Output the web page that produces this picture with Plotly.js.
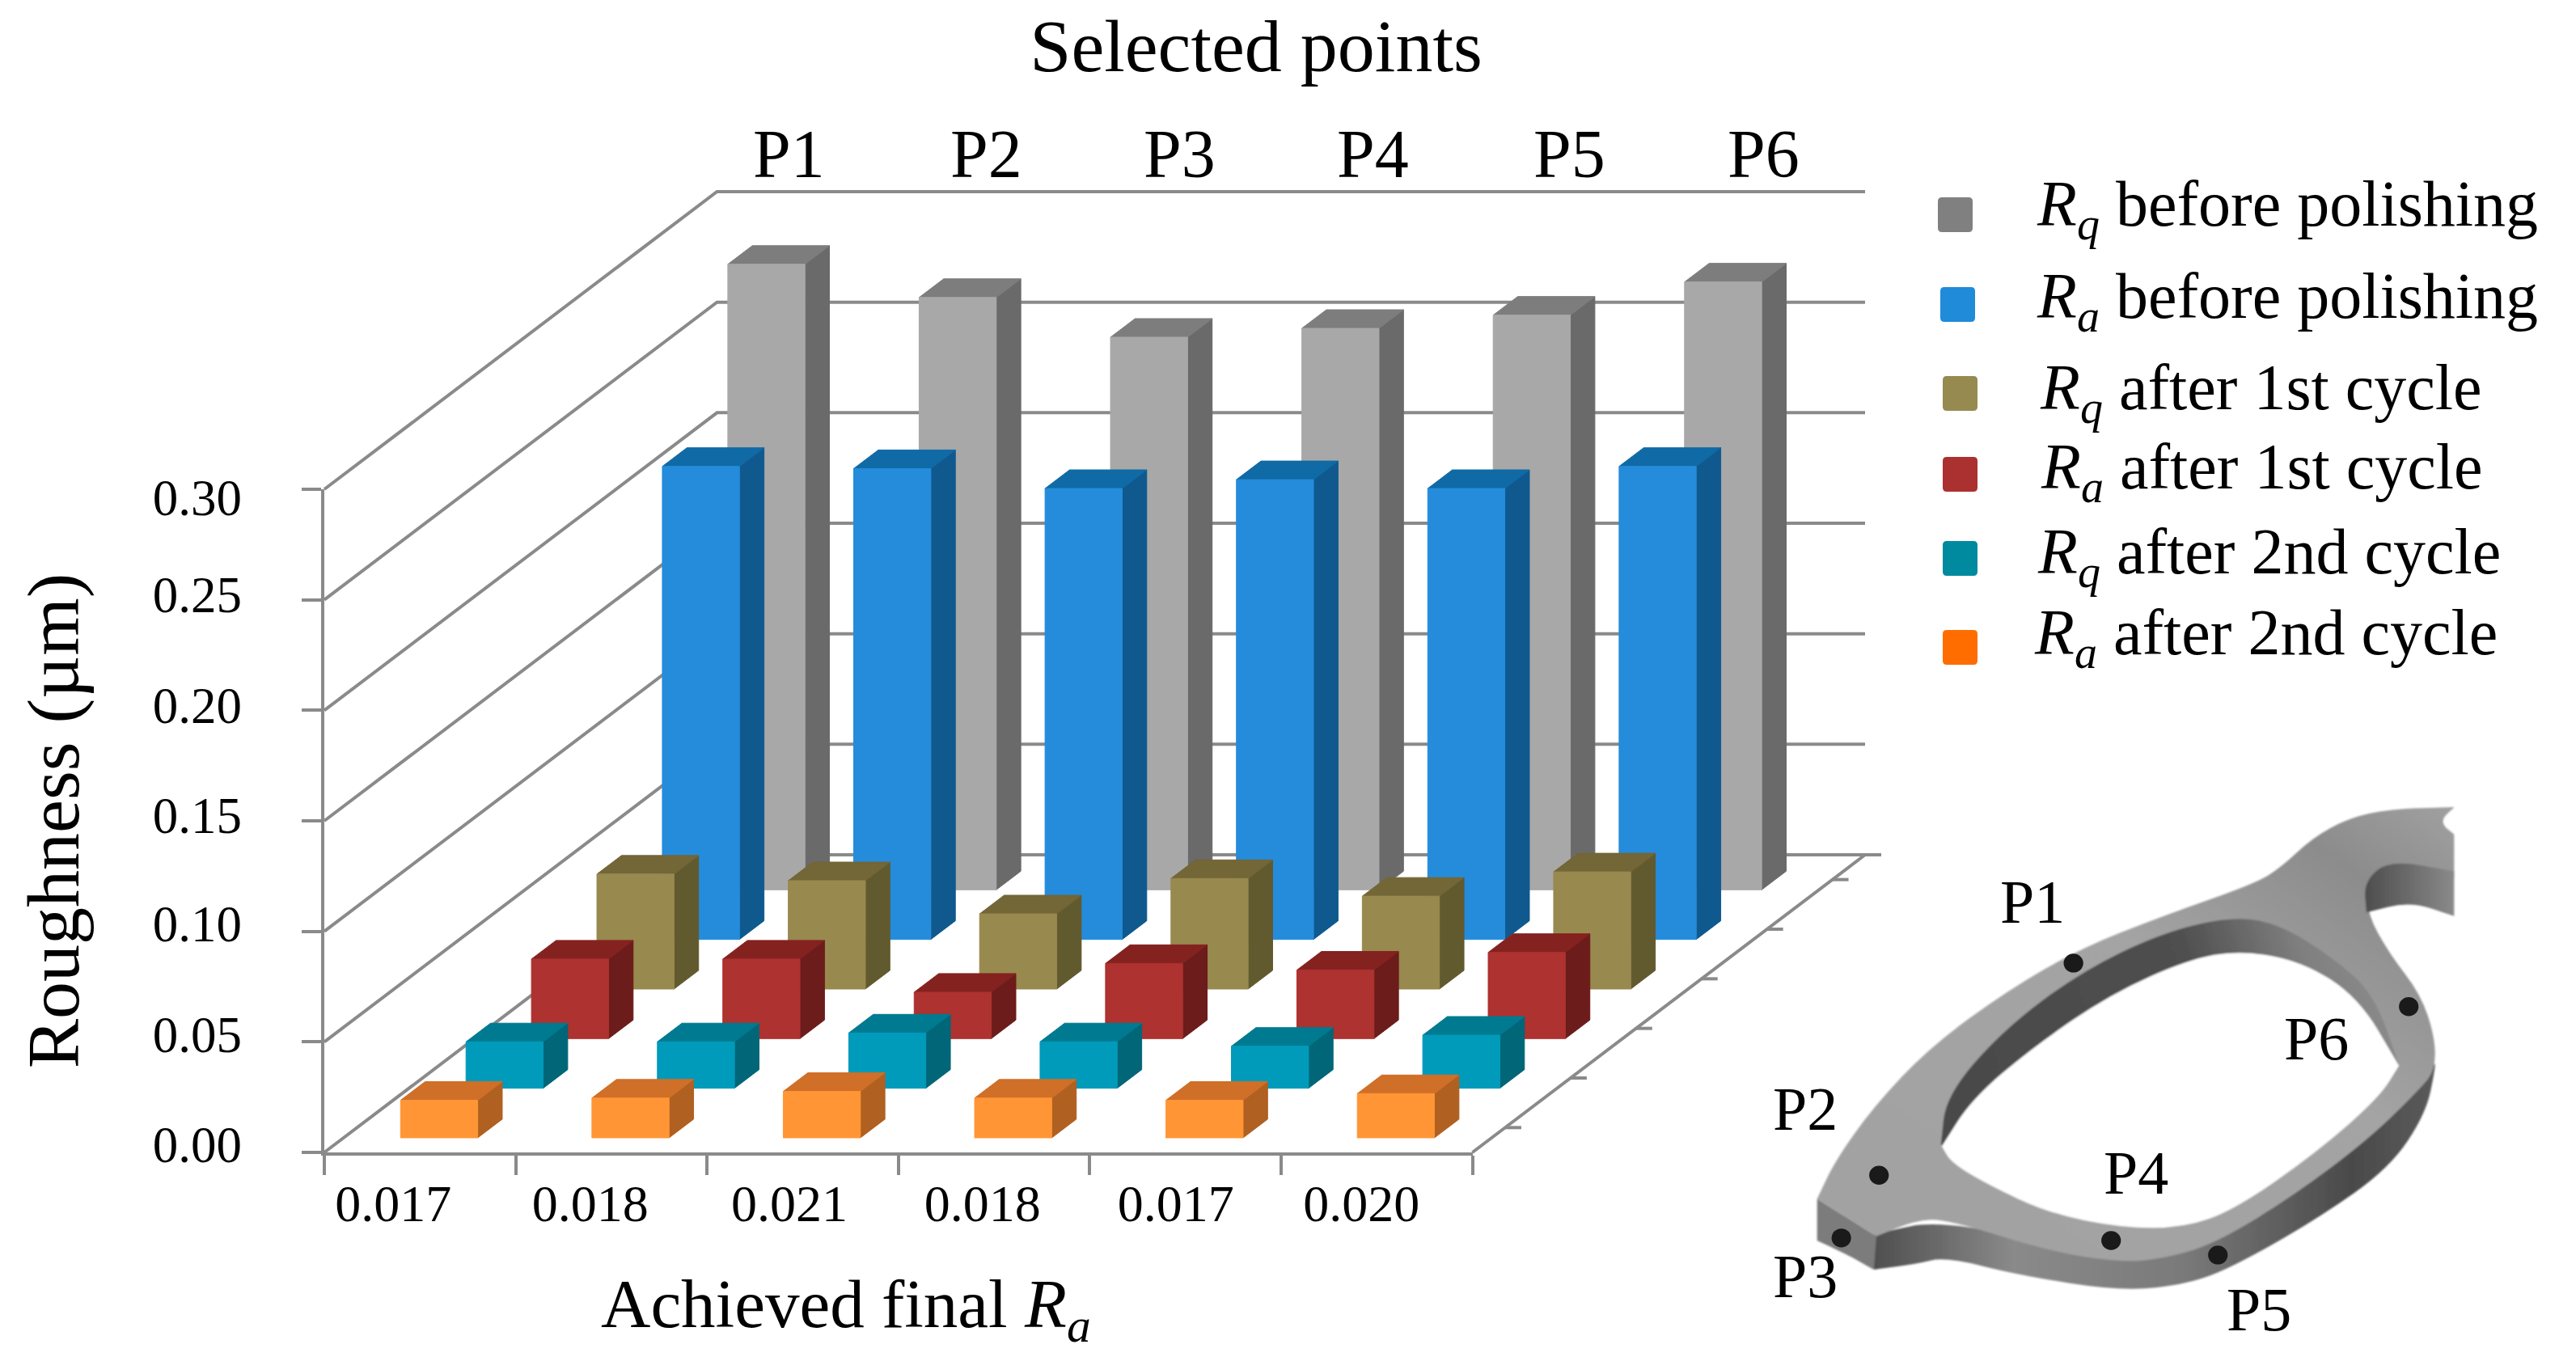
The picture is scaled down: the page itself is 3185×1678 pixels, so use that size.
<!DOCTYPE html>
<html>
<head>
<meta charset="utf-8">
<script src="https://cdn.plot.ly/plotly-3.0.1.min.js"></script>
<style>html,body{margin:0;padding:0;background:#fff}</style>
</head>
<body>
<div id="chart" style="width:3185px;height:1678px"></div>
<script>
// ---- Data ----
const finalRaLabels = ["0.017", "0.018", "0.021", "0.018", "0.017", "0.020"];
const points = ["P1", "P2", "P3", "P4", "P5", "P6"];
const rqBefore = [0.283, 0.268, 0.250, 0.254, 0.260, 0.275];
const raBefore = [0.214, 0.213, 0.204, 0.208, 0.204, 0.214];
const rqAfter1 = [0.052, 0.049, 0.034, 0.050, 0.042, 0.053];
const raAfter1 = [0.036, 0.036, 0.021, 0.034, 0.031, 0.039];
const rqAfter2 = [0.021, 0.021, 0.025, 0.021, 0.019, 0.024];
const raAfter2 = [0.017, 0.018, 0.021, 0.018, 0.017, 0.020];
const yTicks = [0, 0.05, 0.10, 0.15, 0.20, 0.25, 0.30];
const yTickText = ["0.00", "0.05", "0.10", "0.15", "0.20", "0.25", "0.30"];

// ---- Styles: front to back ----
const rows = [
  {v: raAfter2, front: "#ff9535", top: "#cf6f28", side: "#b06020"},
  {v: rqAfter2, front: "#009abb", top: "#007a90", side: "#006678"},
  {v: raAfter1, front: "#ad3230", top: "#842220", side: "#6c1c1a"},
  {v: rqAfter1, front: "#98894f", top: "#736637", side: "#625a2f"},
  {v: raBefore, front: "#258cdb", top: "#0f6aa5", side: "#0f598e"},
  {v: rqBefore, front: "#a8a8a8", top: "#7d7d7d", side: "#6a6a6a"}
];

// ---- Oblique projection of the 3-D box into the axes' own units ----
const W = 3185, H = 1678;
const X0 = 401, X1 = 1820.5, Y0 = 1425, Y30 = 605;
const catPx = (X1 - X0) / 6, umPx = (Y0 - Y30) / 0.30;
const DX = 485.5 / catPx;     // categories per full depth
const DY = 368 / umPx;        // microns per full depth
const nRow = 6;
const barL = 0.298, barR = 0.701, rowF = 0.294, rowB = 0.669;
const proj = (c, d, v) => [c + d * DX, v + d * DY];
const LINE = "#8a8a8a", LW = 4;

function poly(corners) {
  const xs = [], ys = [];
  corners.forEach(p => { xs.push(p[0]); ys.push(p[1]); });
  xs.push(corners[0][0], null); ys.push(corners[0][1], null);
  return [xs, ys];
}
function faceTrace(polys, color) {
  let x = [], y = [];
  polys.forEach(p => { const q = poly(p); x = x.concat(q[0]); y = y.concat(q[1]); });
  return {type: "scatter", mode: "lines", x, y, fill: "toself", fillcolor: color,
          line: {color: color, width: 1}, hoverinfo: "skip", showlegend: false};
}
function gridLine(x, y) {
  return {type: "scatter", mode: "lines", x, y, hoverinfo: "skip", showlegend: false,
          line: {color: LINE, width: LW}};
}

const traces = [];
// wall gridlines: diagonal on the left wall, horizontal on the back wall
yTicks.forEach(t => {
  const a = proj(0, 0, t), b = proj(0, 1, t), c = proj(6, 1, t);
  traces.push(gridLine([a[0], b[0], c[0]], [a[1], b[1], c[1]]));
});
// floor edge on the right, with a tick mark at the middle of each row and one at the back corner
{
  const a = proj(6, 0, 0), b = proj(6, 1, 0), tick = 20 / catPx;
  traces.push(gridLine([a[0], b[0]], [a[1], b[1]]));
  traces.push(gridLine([b[0], b[0] + tick], [b[1], b[1]]));
  for (let r = 0; r < nRow; r++) {
    const p = proj(6, (r + 0.5) / nRow, 0);
    traces.push(gridLine([p[0], p[0] + tick], [p[1], p[1]]));
  }
}
// bars from the back row to the front row
for (let r = nRow - 1; r >= 0; r--) {
  const s = rows[r], fr = [], tp = [], sd = [];
  const df = (r + rowF) / nRow, db = (r + rowB) / nRow;
  s.v.forEach((v, i) => {
    const l = i + barL, e = i + barR;
    fr.push([proj(l, df, 0), proj(e, df, 0), proj(e, df, v), proj(l, df, v)]);
    tp.push([proj(l, df, v), proj(e, df, v), proj(e, db, v), proj(l, db, v)]);
    sd.push([proj(e, df, 0), proj(e, db, 0), proj(e, db, v), proj(e, df, v)]);
  });
  traces.push(faceTrace(sd, s.side), faceTrace(tp, s.top), faceTrace(fr, s.front));
}
// carriers of the visible axes (ticks on x2/y2, labels on x3/y3)
const none = (xa, ya) => ({type: "scatter", mode: "none", x: [0, 6], y: [0, 0.3], xaxis: xa, yaxis: ya, hoverinfo: "skip", showlegend: false});
traces.push(none("x2", "y2"), none("x3", "y3"));

// ---- Inset illustration of the part, as an inline SVG ----
function smooth(pts) {
  let d = "M" + pts[0].join(" ");
  for (let i = 1; i < pts.length - 1; i++) {
    const mx = (pts[i][0] + pts[i + 1][0]) / 2, my = (pts[i][1] + pts[i + 1][1]) / 2;
    d += " Q" + pts[i].join(" ") + " " + mx + " " + my;
  }
  return d + " L" + pts[pts.length - 1].join(" ") + " Z";
}
const outerTop = [[230,1165],[230,1165],[265,1060],[340,910],[450,745],[600,590],[740,475],[900,385],[1080,295],[1130,250],[1190,170],[1260,115],[1340,90],[1465,85],[1465,85],[1465,280],[1465,280],[1300,280],[1295,375],[1340,490],[1400,600],[1428,720],[1428,810],[1400,860],[1300,1000],[1150,1160],[1000,1290],[900,1330],[820,1340],[680,1310],[480,1220],[420,1225],[345,1268],[345,1268],[230,1165]];
const sideWall = [[340,1262],[340,1262],[340,1360],[340,1360],[420,1345],[480,1325],[620,1375],[820,1420],[950,1400],[1040,1350],[1200,1220],[1340,1080],[1410,930],[1428,810],[1428,780],[1300,1000],[1000,1290],[820,1340],[480,1220],[340,1262]];
const corner = [[230,1165],[230,1165],[345,1268],[345,1268],[340,1360],[340,1360],[290,1320],[230,1280],[230,1280],[230,1165]];
const innerWall = [[470,1015],[470,1015],[480,880],[590,700],[740,540],[900,430],[1040,385],[1130,410],[1230,500],[1310,600],[1358,795],[1358,795],[1320,880],[1040,1190],[940,1240],[680,1200],[470,1015]];
const hole = [[472,1020],[472,1020],[530,890],[650,745],[800,600],[950,505],[1050,480],[1170,510],[1280,610],[1358,798],[1358,798],[1320,885],[1200,1035],[1040,1195],[940,1245],[820,1245],[680,1205],[560,1125],[490,1065],[472,1020]];
const notch = [[1295,375],[1295,375],[1290,290],[1340,230],[1465,262],[1465,262],[1465,385],[1465,385],[1380,345],[1295,375]];
const notchCut = [[1470,165],[1470,165],[1435,125],[1470,80],[1470,80],[1470,165]];
const dots = [[727,515],[1377,635],[350,1100],[277,1273],[800,1280],[1007,1320]];
const partSvg = '<svg xmlns="http://www.w3.org/2000/svg" width="1000" height="700" viewBox="0 0 1568 1561" preserveAspectRatio="none">' +
 '<defs>' +
 '<linearGradient id="w" x1="0" x2="1" y1="0" y2="0"><stop offset="0" stop-color="#4f4f4f"/><stop offset="0.25" stop-color="#8a8a8a"/><stop offset="0.55" stop-color="#7a7a7a"/><stop offset="0.85" stop-color="#4a4a4a"/><stop offset="1" stop-color="#5a5a5a"/></linearGradient>' +
 '<linearGradient id="t" x1="0" x2="1" y1="1" y2="0"><stop offset="0" stop-color="#a2a2a2"/><stop offset="0.6" stop-color="#a4a4a4"/><stop offset="0.85" stop-color="#8c8c8c"/><stop offset="1" stop-color="#a0a0a0"/></linearGradient>' +
 '<linearGradient id="i" x1="0" x2="1" y1="0.3" y2="0.1"><stop offset="0" stop-color="#4a4a4a"/><stop offset="0.55" stop-color="#4f4f4f"/><stop offset="0.8" stop-color="#808080"/><stop offset="1" stop-color="#8e8e8e"/></linearGradient>' +
 '<linearGradient id="n" x1="0" x2="1" y1="0" y2="0"><stop offset="0" stop-color="#4d4d4d"/><stop offset="1" stop-color="#8a8a8a"/></linearGradient>' +
 '<filter id="b"><feGaussianBlur stdDeviation="2"/></filter></defs><g filter="url(#b)">' +
 '<path d="' + smooth(sideWall) + '" fill="url(#w)"/>' +
 '<path d="' + smooth(corner) + '" fill="#7c7c7c"/>' +
 '<path d="' + smooth(outerTop) + '" fill="url(#t)"/>' +
 '<path d="' + smooth(notch) + '" fill="url(#n)"/>' +
 '<path d="' + smooth(notchCut) + '" fill="#fff"/>' +
 '<path d="' + smooth(innerWall) + '" fill="url(#i)"/>' +
 '<path d="' + smooth(hole) + '" fill="#fff"/></g>' +
 dots.map(p => '<ellipse cx="' + p[0] + '" cy="' + p[1] + '" rx="19" ry="26" fill="#1a1a1a"/>').join("") +
 '</svg>';

// ---- Text ----
const SERIF = "Liberation Serif";
const ax = x => x / W, ay = y => 1 - y / H;
function txt(text, x, y, size, xanchor) {
  return {text, xref: "paper", yref: "paper", x: ax(x), y: ay(y), showarrow: false,
          xanchor: xanchor || "center", yanchor: "middle", align: "left",
          font: {family: SERIF, size, color: "#000"}};
}
const topLabelX = [975, 1219, 1458, 1698, 1940, 2180];
const insetLabels = [["P1",2513,1115],["P2",2232,1371],["P3",2232,1578],["P4",2641,1450],["P5",2793,1619],["P6",2864,1284]];
const R = (s) => "<i>R</i><sub><i>" + s + "</i></sub>";
const legendItems = [
  {t: R("q") + " before polishing", c: "#808080", mx: 2396, my: 244, tx: 2516, ty: 258},
  {t: R("a") + " before polishing", c: "#1f8bd9", mx: 2399, my: 355, tx: 2516, ty: 372},
  {t: R("q") + " after 1st cycle",  c: "#968a50", mx: 2402, my: 465, tx: 2520, ty: 485},
  {t: R("a") + " after 1st cycle",  c: "#ab3030", mx: 2402, my: 565, tx: 2521, ty: 583},
  {t: R("q") + " after 2nd cycle",  c: "#008a9f", mx: 2402, my: 669, tx: 2517, ty: 688},
  {t: R("a") + " after 2nd cycle",  c: "#ff6d00", mx: 2402, my: 779, tx: 2513, ty: 788}
];
const annotations = [
  txt("Achieved final <i>R</i><sub><i>a</i></sub>", 1046, 1618, 85)
];
points.forEach((p, i) => annotations.push(txt(p, topLabelX[i], 191, 84)));
insetLabels.forEach(l => annotations.push(txt(l[0], l[1], l[2], 76)));
legendItems.forEach(l => annotations.push(txt(l.t, l.tx, l.ty, 80, "left")));

const sz = 43, rad = 5;
const shapes = legendItems.map(l => {
  const x0 = l.mx, y0 = l.my, x1 = l.mx + sz, y1 = l.my + sz;
  const p = (x, y) => ax(x) + "," + ay(y);
  return {type: "path", xref: "paper", yref: "paper", fillcolor: l.c, line: {width: 0},
    path: "M" + p(x0 + rad, y0) + " L" + p(x1 - rad, y0) + " Q" + p(x1, y0) + " " + p(x1, y0 + rad) +
          " L" + p(x1, y1 - rad) + " Q" + p(x1, y1) + " " + p(x1 - rad, y1) +
          " L" + p(x0 + rad, y1) + " Q" + p(x0, y1) + " " + p(x0, y1 - rad) +
          " L" + p(x0, y0 + rad) + " Q" + p(x0, y0) + " " + p(x0 + rad, y0) + " Z"};
});

const xLabelPos = [0.36, 1.39, 2.43, 3.44, 4.45, 5.42];
const yLabelPos = [0.0037, 0.0536, 0.1035, 0.1526, 0.2025, 0.2524, 0.2964];
const tickDom = [X0 / W, X1 / W], valDom = [1 - Y0 / H, 1 - Y30 / H];
const layout = {
  width: W, height: H, showlegend: false, paper_bgcolor: "#fff", plot_bgcolor: "rgba(0,0,0,0)",
  margin: {l: 0, r: 0, t: 0, b: 0},
  font: {family: SERIF, color: "#000"},
  title: {text: "Selected points", x: 1553 / W, xanchor: "center", xref: "paper", y: 1 - 56 / H, yanchor: "middle", yref: "paper",
          font: {family: SERIF, size: 92, color: "#000"}},
  // full-canvas scales carrying the projected box; same units as the visible axes
  xaxis: {domain: [0, 1], range: [-X0 / catPx, (W - X0) / catPx], visible: false, fixedrange: true},
  yaxis: {domain: [0, 1], range: [-(H - Y0) / umPx, Y0 / umPx], visible: false, fixedrange: true},
  // visible axes: line and ticks
  xaxis2: {domain: tickDom, range: [0, 6], anchor: "y2", tickmode: "array", tickvals: [0, 1, 2, 3, 4, 5, 6], showticklabels: false,
           ticks: "outside", ticklen: 24, tickwidth: LW, tickcolor: LINE, showgrid: false, zeroline: false,
           showline: true, linecolor: LINE, linewidth: LW, fixedrange: true},
  yaxis2: {domain: valDom, range: [0, 0.30], anchor: "x2", tickmode: "array", tickvals: yTicks, showticklabels: false,
           ticks: "outside", ticklen: 24, tickwidth: LW, tickcolor: LINE, showgrid: false, zeroline: false,
           showline: true, linecolor: LINE, linewidth: LW, fixedrange: true},
  // labels, placed where the reference has them
  xaxis3: {domain: tickDom, range: [0, 6], anchor: "y3", tickmode: "array", tickvals: xLabelPos, ticktext: finalRaLabels, ticks: "",
           showgrid: false, zeroline: false, showline: false, fixedrange: true,
           tickfont: {family: SERIF, size: 64, color: "#000"}, ticklabelstandoff: 20},
  yaxis3: {domain: valDom, range: [0, 0.30], anchor: "x3", tickmode: "array", tickvals: yLabelPos, ticktext: yTickText, ticks: "",
           showgrid: false, zeroline: false, showline: false, fixedrange: true,
           tickfont: {family: SERIF, size: 63, color: "#000"}, ticklabelstandoff: 101,
           title: {text: "Roughness (µm)", font: {family: SERIF, size: 92, color: "#000"}, standoff: 60}},
  annotations, shapes,
  images: [{source: "data:image/svg+xml;charset=utf-8," + encodeURIComponent(partSvg), xref: "paper", yref: "paper",
            x: 2100 / W, y: 1 - 960 / H, sizex: 1000 / W, sizey: 700 / H, sizing: "stretch", xanchor: "left", yanchor: "top", layer: "below"}]
};
Plotly.newPlot("chart", traces, layout, {staticPlot: true, displayModeBar: false});
</script>
</body>
</html>
